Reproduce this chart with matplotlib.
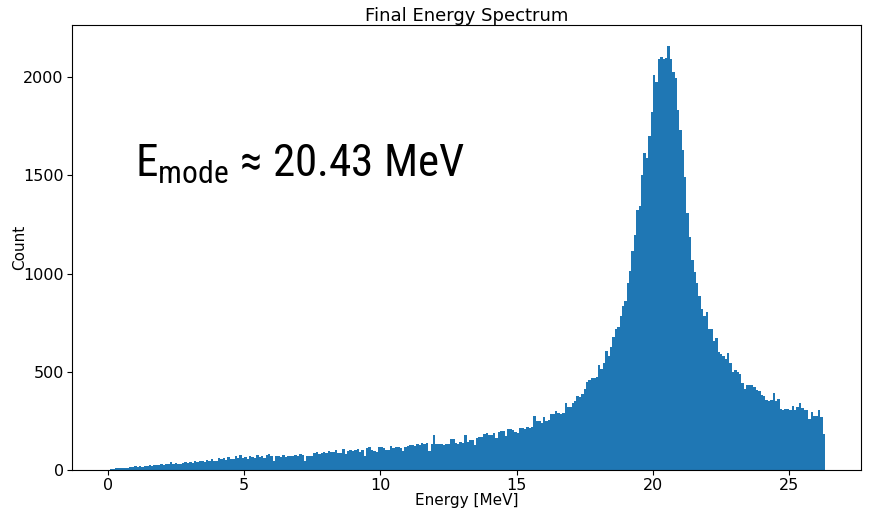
import numpy as np
import matplotlib
matplotlib.use("Agg")
import matplotlib.pyplot as plt

# energy range covered by the histogram bins (MeV)
e_min = 0.0
e_max = 26.32

# counts per bin, 300 bins between e_min and e_max
counts = [
    2, 5, 7, 9, 8, 11, 10, 12, 9, 14,
    16, 19, 17, 21, 15, 22, 19, 24, 22, 25,
    27, 24, 29, 26, 30, 33, 42, 31, 35, 33,
    29, 37, 40, 36, 43, 38, 45, 41, 47, 44,
    42, 50, 45, 56, 48, 47, 61, 57, 63, 52,
    66, 58, 55, 71, 62, 74, 60, 68, 57, 72,
    64, 59, 75, 66, 70, 62, 77, 80, 71, 48,
    69, 70, 67, 74, 66, 71, 73, 69, 76, 72,
    81, 75, 46, 71, 73, 70, 86, 92, 84, 89,
    93, 88, 95, 91, 90, 102, 87, 89, 107, 84,
    96, 104, 99, 101, 108, 92, 103, 71, 112, 117,
    101, 99, 94, 118, 116, 113, 104, 100, 120, 112,
    119, 115, 111, 97, 117, 121, 126, 129, 124, 131,
    127, 136, 133, 138, 99, 130, 178, 134, 130, 132,
    128, 133, 135, 157, 159, 137, 134, 141, 139, 176,
    142, 154, 152, 129, 164, 167, 170, 183, 187, 180,
    176, 188, 163, 196, 201, 199, 172, 207, 211, 206,
    192, 190, 213, 215, 210, 219, 216, 221, 276, 252,
    248, 241, 272, 250, 253, 284, 287, 303, 290, 287,
    289, 343, 322, 320, 341, 350, 378, 372, 388, 415,
    448, 457, 468, 468, 475, 534, 514, 544, 607, 580,
    626, 679, 717, 729, 784, 835, 862, 953, 1014, 1116,
    1197, 1323, 1347, 1501, 1615, 1590, 1700, 1823, 2010, 1977,
    2095, 2103, 2095, 2097, 2158, 2093, 2027, 1994, 1832, 1730,
    1628, 1493, 1307, 1185, 1069, 1009, 953, 885, 822, 784,
    806, 717, 717, 657, 673, 603, 592, 583, 565, 595,
    544, 497, 509, 497, 488, 442, 415, 432, 433, 432,
    422, 405, 400, 383, 375, 358, 353, 355, 390, 349,
    362, 312, 307, 309, 311, 307, 327, 307, 323, 340,
    318, 307, 307, 258, 297, 276, 276, 307, 270, 183,
]

mode_label = "20.43 MeV"

edges = np.linspace(e_min, e_max, len(counts) + 1)
centers = 0.5 * (edges[:-1] + edges[1:])

fig, ax = plt.subplots(figsize=(8.71, 5.12), dpi=100)
fig.subplots_adjust(left=0.0827, right=0.9885, top=0.951, bottom=0.082)

ax.hist(centers, bins=edges, weights=counts, color="C0")

ax.set_title("Final Energy Spectrum", fontsize=13, pad=3)
ax.set_xlabel("Energy [MeV]", fontsize=11, labelpad=0)
ax.set_ylabel("Count", fontsize=11, labelpad=-3)
ax.tick_params(labelsize=11.5, pad=2.5)

# big annotation with the most probable energy
ax.text(0.08, 0.658, r"$\mathregular{E_{mode}}$" + " \u2248 " + mode_label,
        transform=ax.transAxes, fontsize=32.5, va="baseline",
        fontstretch="condensed",
        family=["Roboto Condensed", "DejaVu Sans Condensed", "Liberation Sans Narrow",
                "Open Sans", "DejaVu Sans"])

fig.savefig("out.png", dpi=100)
